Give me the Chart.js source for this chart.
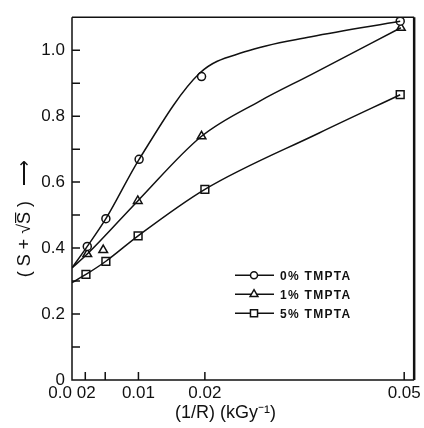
<!DOCTYPE html>
<html>
<head>
<meta charset="utf-8">
<script src="https://cdn.jsdelivr.net/npm/chart.js@4"></script>
<style>
  html, body { margin: 0; padding: 0; background: #fff; }
  #wrap { width: 424px; height: 428px; }
</style>
</head>
<body>
<div id="wrap"><canvas id="chart"></canvas></div>
<script>
const seriesNames = ["0% TMPTA", "1% TMPTA", "5% TMPTA"];
const markerStyles = ["circle", "triangle", "rect"];
const markerSizes = [4, 5, 5.5];

// measured points
const pointsX0 = [0.0023, 0.0051, 0.0101, 0.0195, 0.0494];
const pointsY0 = [0.405, 0.489, 0.669, 0.92, 1.088];
const pointsX1 = [0.0023, 0.0047, 0.0099, 0.0195, 0.0495];
const pointsY1 = [0.382, 0.394, 0.543, 0.739, 1.068];
const pointsX2 = [0.0021, 0.0051, 0.00995, 0.02, 0.0494];
const pointsY2 = [0.32, 0.36, 0.437, 0.578, 0.865];

// hand drawn curves (they start on the y axis)
const curveX0 = [0, 0.0023, 0.0051, 0.0101, 0.0192, 0.026, 0.036, 0.0494];
const curveY0 = [0.34, 0.405, 0.489, 0.669, 0.93, 0.995, 1.041, 1.088];
const curveX1 = [0, 0.0023, 0.0099, 0.0195, 0.0282, 0.036, 0.0495];
const curveY1 = [0.34, 0.382, 0.543, 0.739, 0.845, 0.926, 1.068];
const curveX2 = [0, 0.0021, 0.0051, 0.00995, 0.02, 0.0372, 0.0494];
const curveY2 = [0.295, 0.32, 0.36, 0.437, 0.578, 0.749, 0.865];

const xTickValues = [0, 0.01, 0.02, 0.05];
const xTickLabels = ["0.0 02", "0.01", "0.02", "0.05"];
const xMarkValues = [0.002, 0.005, 0.01, 0.02, 0.05];
const yTickValues = [0, 0.2, 0.4, 0.6, 0.8, 1.0];
const yTickLabels = ["0", "0.2", "0.4", "0.6", "0.8", "1.0"];

const ink = "#111";
const nb = "\u00a0";

function toXY(xs, ys) {
    return xs.map((x, i) => ({ x: x, y: ys[i] }));
}

const curves = [[curveX0, curveY0], [curveX1, curveY1], [curveX2, curveY2]];
const points = [[pointsX0, pointsY0], [pointsX1, pointsY1], [pointsX2, pointsY2]];

const datasets = [];
curves.forEach((c, i) => {
    datasets.push({
        label: seriesNames[i] + " curve",
        data: toXY(c[0], c[1]),
        borderColor: ink,
        borderWidth: 1.5,
        pointRadius: 0,
        cubicInterpolationMode: "monotone",
        fill: false
    });
});
points.forEach((p, i) => {
    datasets.push({
        label: seriesNames[i],
        data: toXY(p[0], p[1]),
        showLine: false,
        pointStyle: markerStyles[i],
        pointRadius: markerSizes[i],
        pointBorderWidth: 1.5,
        pointBorderColor: ink,
        pointBackgroundColor: "#fff"
    });
});

// inward ticks, frame and the little legend inside the plot
const framePlugin = {
    id: "frame",
    afterDraw(chart) {
        const ctx = chart.ctx;
        const a = chart.chartArea;
        const xs = chart.scales.x, ys = chart.scales.y;
        ctx.save();
        ctx.strokeStyle = ink;
        ctx.lineWidth = 1.5;
        ctx.beginPath();
        ctx.moveTo(a.left, a.top);
        ctx.lineTo(a.left, a.bottom);
        ctx.lineTo(a.right, a.bottom);
        ctx.moveTo(a.left, a.top);
        ctx.lineTo(a.right, a.top);
        ys.ticks.forEach(t => {
            if (t.value <= 0 || t.value > 1.05) return;
            const py = ys.getPixelForValue(t.value);
            ctx.moveTo(a.left, py);
            ctx.lineTo(a.left + 8, py);
        });
        xMarkValues.forEach(v => {
            const px = xs.getPixelForValue(v);
            ctx.moveTo(px, a.bottom);
            ctx.lineTo(px, a.bottom - 8);
        });
        ctx.stroke();
        ctx.lineWidth = 2.5;
        ctx.beginPath();
        ctx.moveTo(a.right, a.top);
        ctx.lineTo(a.right, a.bottom);
        ctx.stroke();

        // legend
        const lx = a.left + 163, ly = a.top + 258;
        ctx.font = "bold 12px 'Liberation Sans', Arial, sans-serif";
        ctx.letterSpacing = "1.3px";
        ctx.textBaseline = "middle";
        ctx.fillStyle = ink;
        seriesNames.forEach((name, i) => {
            const y = ly + i * 19;
            ctx.lineWidth = 1.5;
            ctx.beginPath();
            ctx.moveTo(lx, y);
            ctx.lineTo(lx + 39, y);
            ctx.stroke();
            ctx.fillStyle = "#fff";
            Chart.helpers.drawPoint(ctx, {
                pointStyle: markerStyles[i],
                radius: markerSizes[i] - 0.5,
                borderWidth: 1.5
            }, lx + 19, y);
            ctx.fillStyle = ink;
            ctx.fillText(name, lx + 45, y + 1);
        });
        ctx.restore();
    }
};

const ctx = document.getElementById("chart").getContext("2d");
new Chart(ctx, {
    type: "line",
    data: { datasets: datasets },
    plugins: [framePlugin],
    options: {
        responsive: true,
        maintainAspectRatio: false,
        animation: false,
        layout: { padding: { top: 16, right: 9, left: 0, bottom: 0 } },
        plugins: {
            legend: { display: false },
            tooltip: { enabled: false }
        },
        scales: {
            x: {
                type: "linear",
                min: 0,
                max: 0.0515,
                afterBuildTicks: scale => {
                    scale.ticks = xTickValues.map(v => ({ value: v }));
                },
                afterFit: scale => { scale.height = 48; },
                grid: { display: false, drawTicks: false },
                border: { display: false },
                ticks: {
                    color: ink,
                    padding: 3,
                    maxRotation: 0,
                    autoSkip: false,
                    font: { family: "'Liberation Sans', Arial, sans-serif", size: 17 },
                    callback: (v, i) => xTickLabels[i]
                },
                title: {
                    display: true,
                    text: "(1/R) (kGy\u207b\u00b9)" + nb.repeat(7),
                    color: ink,
                    padding: { top: 0, bottom: 4 },
                    font: { family: "'Liberation Sans', Arial, sans-serif", size: 18 }
                }
            },
            y: {
                min: 0,
                max: 1.1,
                afterFit: scale => { scale.width = 72; },
                grid: { display: false, drawTicks: false },
                border: { display: false },
                ticks: {
                    stepSize: 0.1,
                    color: ink,
                    padding: 7,
                    font: { family: "'Liberation Sans', Arial, sans-serif", size: 17 },
                    callback: v => {
                        const i = yTickValues.findIndex(t => Math.abs(t - v) < 1e-6);
                        return i >= 0 ? yTickLabels[i] : "";
                    }
                },
                title: {
                    display: true,
                    text: "(" + nb + "S" + nb + "+" + nb + "\u221aS\u0305" + nb + ")" + nb + nb + nb + "\u27f6" + nb.repeat(8),
                    color: ink,
                    padding: { top: 14, bottom: 0 },
                    font: { family: "'Liberation Sans', Arial, sans-serif", size: 18 }
                }
            }
        }
    }
});
</script>
</body>
</html>
